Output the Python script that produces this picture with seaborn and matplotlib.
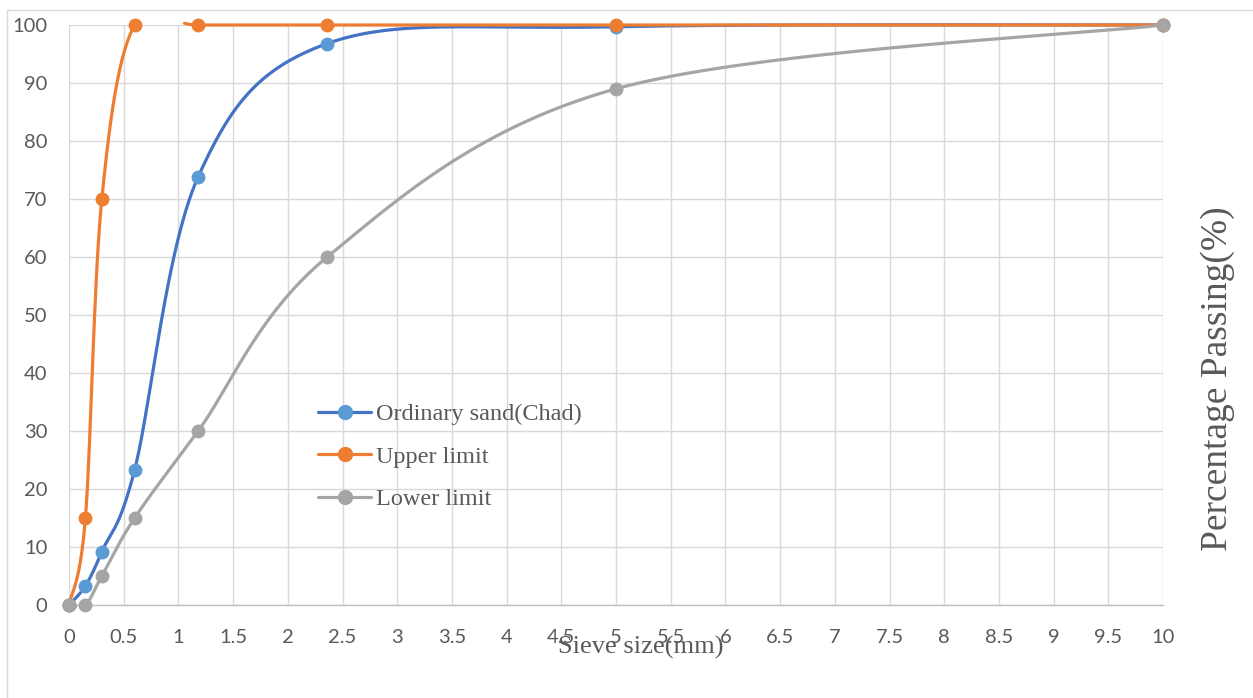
import numpy as np
import pandas as pd
import matplotlib
matplotlib.use("Agg")
import matplotlib.pyplot as plt
import seaborn as sns
from matplotlib.lines import Line2D
from matplotlib.patches import Rectangle

# ---------------- data ----------------
sieve_mm = [0, 0.15, 0.3, 0.6, 1.18, 2.36, 5, 10]
ordinary_sand = [0, 3.3, 9.2, 23.3, 73.8, 96.8, 99.7, 100]
upper_limit = [0, 15, 70, 100, 100, 100, 100, 100]
lower_limit = [0, 0, 5, 15, 30, 60, 89, 100]
series_names = ["Ordinary sand(Chad)", "Upper limit", "Lower limit"]
x_tick_values = [0, 0.5, 1, 1.5, 2, 2.5, 3, 3.5, 4, 4.5, 5, 5.5, 6, 6.5, 7,
                 7.5, 8, 8.5, 9, 9.5, 10]
x_tick_labels = ["0", "0.5", "1", "1.5", "2", "2.5", "3", "3.5", "4", "4.5",
                 "5", "5.5", "6", "6.5", "7", "7.5", "8", "8.5", "9", "9.5", "10"]
y_tick_values = [0, 10, 20, 30, 40, 50, 60, 70, 80, 90, 100]
y_tick_labels = ["0", "10", "20", "30", "40", "50", "60", "70", "80", "90", "100"]

line_colors = ["#4472C4", "#ED7D31", "#A5A5A5"]
marker_colors = ["#5B9BD5", "#ED7D31", "#A5A5A5"]
TEXT = "#595959"

W, H = 1253, 698


def excel_smooth(xs, ys, n=80):
    P = np.column_stack([xs, ys]).astype(float)
    out = []
    for i in range(len(P) - 1):
        p0 = P[i - 1] if i > 0 else P[i]
        p1, p2 = P[i], P[i + 1]
        p3 = P[i + 2] if i + 2 < len(P) else P[i + 1]
        c1 = p1 + (p2 - p0) / 6.0
        c2 = p2 - (p3 - p1) / 6.0
        t = np.linspace(0, 1, n)[:, None]
        seg = ((1 - t) ** 3) * p1 + 3 * ((1 - t) ** 2) * t * c1 \
            + 3 * (1 - t) * t ** 2 * c2 + t ** 3 * p2
        if i > 0:
            seg = seg[1:]
        out.append(seg)
    return np.vstack(out)


def visible_runs(curve, lo=-0.3, hi=100.3):
    ok = (curve[:, 1] >= lo) & (curve[:, 1] <= hi)
    runs, cur = [], []
    for k, flag in enumerate(ok):
        if flag:
            cur.append(k)
        elif cur:
            runs.append(cur)
            cur = []
    if cur:
        runs.append(cur)
    return [curve[r] for r in runs if len(r) > 1]


sns.set_style("white")
fig = plt.figure(figsize=(W / 100, H / 100), dpi=100)
ax = fig.add_axes([69 / W, (H - 605) / H, (1163 - 69) / W, 580 / H])

all_series = [ordinary_sand, upper_limit, lower_limit]
z = 3
for vals, lc, mc in zip(all_series, line_colors, marker_colors):
    curve = excel_smooth(sieve_mm, vals)
    for run in visible_runs(curve):
        df = pd.DataFrame({"x": run[:, 0], "y": run[:, 1]})
        sns.lineplot(data=df, x="x", y="y", ax=ax, color=lc, linewidth=2.3,
                     sort=False, estimator=None, legend=False, clip_on=False,
                     zorder=z)
    z += 1
    sns.scatterplot(x=sieve_mm, y=vals, ax=ax, color=mc, s=100, linewidth=0,
                    clip_on=False, legend=False, zorder=z)
    z += 1

ax.set_xlim(0, 10)
ax.set_ylim(0, 100)
ax.set_xticks(x_tick_values)
ax.set_xticklabels(x_tick_labels)
ax.set_yticks(y_tick_values)
ax.set_yticklabels(y_tick_labels)
ax.set_xlabel("")
ax.set_ylabel("")
ax.grid(True, color="#D9D9D9", linewidth=1.0)
ax.set_axisbelow(True)
for s in ["top", "right", "left"]:
    ax.spines[s].set_visible(False)
ax.spines["bottom"].set_color("#BFBFBF")
ax.spines["bottom"].set_linewidth(1.0)
ax.tick_params(length=0, labelsize=14.5, labelcolor=TEXT)
ax.tick_params(axis="y", pad=15.5)
ax.tick_params(axis="x", pad=17)
for lab in ax.get_xticklabels() + ax.get_yticklabels():
    lab.set_family(["Lato", "DejaVu Sans"])

fig.text(641 / W, 1 - 647 / H, "Sieve size(mm)", ha="center", va="center",
         family=["Liberation Serif", "DejaVu Serif"], size=19, color=TEXT,
         zorder=10)
fig.text(1218 / W, 1 - 379 / H, "Percentage Passing(%)", ha="center",
         va="center", rotation=90, family=["Liberation Serif", "DejaVu Serif"],
         size=27, color=TEXT)

fig.add_artist(Rectangle((7 / W, -0.5), 2.0, 0.5 + (H - 10) / H,
                         transform=fig.transFigure, fill=False,
                         edgecolor="#D9D9D9", linewidth=1.0))

handles = [Line2D([], [], color=lc, lw=2.3, marker="o", markersize=10,
                  markerfacecolor=mc, markeredgecolor=mc)
           for lc, mc in zip(line_colors, marker_colors)]
fig.legend(handles, series_names, loc="upper left",
           bbox_to_anchor=(318 / W, 1 - 403 / H), frameon=False,
           prop={"family": ["Liberation Serif"], "size": 17.5},
           labelcolor=TEXT, handlelength=2.2, handletextpad=0.2,
           labelspacing=0.85, borderpad=0, borderaxespad=0)

fig.savefig("out.png", dpi=100)
